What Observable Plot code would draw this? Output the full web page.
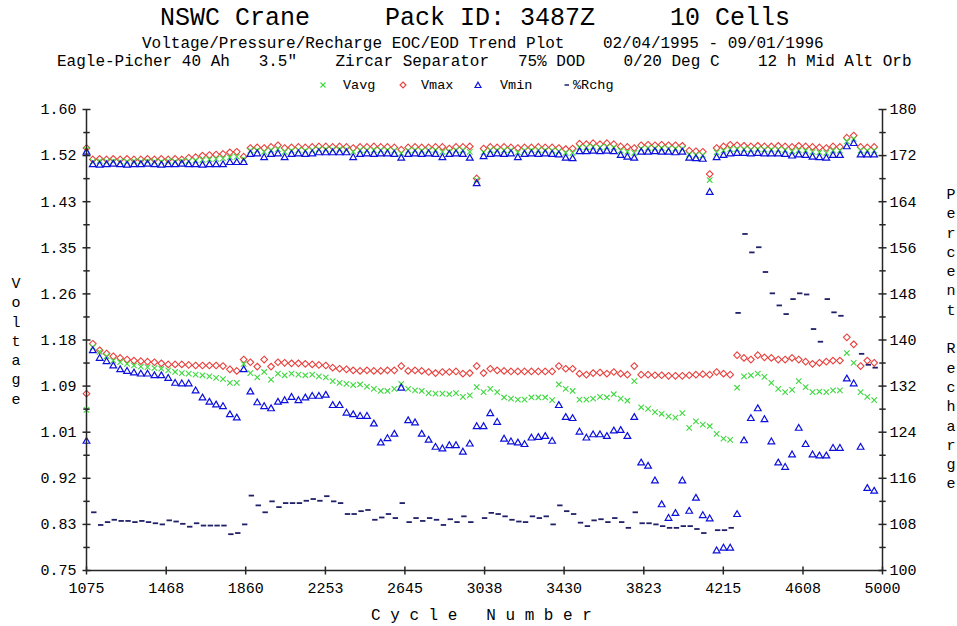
<!DOCTYPE html>
<html><head><meta charset="utf-8">
<script src="https://cdn.jsdelivr.net/npm/d3@7"></script>
<script src="https://cdn.jsdelivr.net/npm/@observablehq/plot@0.6"></script>
<style>
body{margin:0;background:#fff;}
#wrap{position:relative;width:957px;height:626px;font-family:"Liberation Mono",monospace;color:#000;overflow:hidden;}
#wrap > svg{position:absolute;left:0;top:0;}
.t{position:absolute;white-space:pre;line-height:1;}
.stack{position:absolute;white-space:pre;text-align:center;width:16px;font-size:15px;line-height:19.3px;}
.lg{position:absolute;font-size:13.5px;line-height:1;white-space:pre;}
.ls{position:absolute;line-height:0;}
.ls svg{display:block;}
</style></head><body><div id="wrap"></div>
<script>
// ---------- data ----------
const seriesNames = ["Vavg", "Vmax", "Vmin", "%Rchg"];
const xTicks = [1075, 1468, 1860, 2253, 2645, 3038, 3430, 3823, 4215, 4608, 5000];
const yTicks = [0.75, 0.835, 0.92, 1.005, 1.09, 1.175, 1.26, 1.345, 1.43, 1.515, 1.60];
const yTickLabels = ["0.75","0.83","0.92","1.01","1.09","1.18","1.26","1.35","1.43","1.52","1.60"];
const pctTicks = [100, 108, 116, 124, 132, 140, 148, 156, 164, 172, 180];

const cycles = [1075,
1106,1140,1174,1207,1241,1275,1309,1343,1376,1410,
1444,1478,1512,1545,1579,1613,1647,1681,1714,1748,
1782,1816,1850,1883,1917,1951,1985,2019,2052,2086,
2120,2154,2188,2221,2255,2289,2323,2357,2390,2424,
2458,2492,2526,2559,2593,2627,2661,2695,2728,2762,
2796,2830,2864,2897,2931,2965,2999,3033,3066,3100,
3134,3168,3202,3235,3269,3303,3337,3371,3404,3438,
3472,3506,3540,3573,3607,3641,3675,3709,3742,3776,
3810,3844,3878,3911,3945,3979,4013,4047,4080,4114,
4148,4182,4216,4249,4283,4317,4351,4385,4418,4452,
4486,4520,4554,4587,4621,4655,4689,4723,4756,4790,
4824,4858,4892,4925,4959];

// end of charge (EOC)
const vmaxEOC = [1.529,
1.508,1.509,1.508,1.509,1.508,1.509,1.508,1.508,1.509,1.508,
1.509,1.508,1.509,1.508,1.511,1.512,1.515,1.516,1.517,1.518,
1.521,1.522,1.513,1.529,1.530,1.529,1.531,1.534,1.529,1.530,
1.531,1.530,1.531,1.532,1.532,1.531,1.532,1.531,1.529,1.531,
1.531,1.532,1.531,1.531,1.530,1.526,1.530,1.531,1.530,1.530,
1.531,1.531,1.528,1.531,1.531,1.532,1.473,1.528,1.531,1.530,
1.531,1.530,1.529,1.530,1.530,1.531,1.530,1.530,1.529,1.527,
1.528,1.537,1.536,1.538,1.536,1.538,1.536,1.532,1.531,1.529,
1.534,1.535,1.534,1.535,1.534,1.534,1.533,1.524,1.523,1.522,
1.481,1.529,1.532,1.535,1.534,1.533,1.532,1.533,1.532,1.532,
1.533,1.532,1.531,1.533,1.532,1.531,1.530,1.529,1.532,1.531,
1.548,1.552,1.531,1.530,1.531];
const vavgEOC = [1.526,
1.504,1.505,1.504,1.505,1.504,1.504,1.505,1.504,1.505,1.504,
1.504,1.505,1.504,1.505,1.505,1.506,1.507,1.508,1.509,1.510,
1.512,1.513,1.509,1.524,1.525,1.522,1.525,1.527,1.522,1.524,
1.525,1.524,1.525,1.527,1.527,1.526,1.527,1.526,1.522,1.525,
1.525,1.525,1.525,1.525,1.524,1.519,1.524,1.525,1.524,1.525,
1.525,1.522,1.523,1.525,1.525,1.522,1.470,1.521,1.525,1.525,
1.525,1.525,1.521,1.524,1.525,1.525,1.525,1.524,1.523,1.520,
1.520,1.530,1.530,1.531,1.530,1.531,1.530,1.524,1.522,1.520,
1.528,1.529,1.529,1.529,1.528,1.528,1.528,1.517,1.516,1.516,
1.470,1.521,1.524,1.527,1.527,1.527,1.526,1.527,1.526,1.526,
1.526,1.525,1.523,1.525,1.524,1.522,1.521,1.520,1.524,1.524,
1.541,1.546,1.524,1.524,1.524];
const vminEOC = [1.523,
1.500,1.499,1.500,1.501,1.500,1.499,1.500,1.500,1.501,1.500,
1.499,1.500,1.500,1.501,1.500,1.500,1.499,1.500,1.500,1.500,
1.504,1.504,1.504,1.519,1.520,1.513,1.519,1.520,1.513,1.519,
1.520,1.519,1.520,1.522,1.522,1.522,1.522,1.522,1.513,1.519,
1.520,1.519,1.520,1.520,1.519,1.512,1.519,1.520,1.519,1.520,
1.519,1.513,1.519,1.520,1.519,1.512,1.465,1.515,1.519,1.520,
1.519,1.520,1.513,1.519,1.520,1.519,1.520,1.519,1.518,1.512,
1.511,1.524,1.524,1.525,1.524,1.525,1.524,1.517,1.514,1.512,
1.523,1.523,1.524,1.523,1.523,1.522,1.523,1.512,1.511,1.510,
1.449,1.513,1.517,1.520,1.521,1.521,1.520,1.521,1.520,1.520,
1.520,1.519,1.516,1.518,1.517,1.514,1.513,1.512,1.517,1.517,
1.533,1.539,1.518,1.518,1.518];

// end of discharge (EOD)
const vmaxEOD = [1.076,
1.168,1.156,1.150,1.145,1.142,1.139,1.137,1.136,1.135,1.134,
1.132,1.130,1.130,1.130,1.129,1.128,1.128,1.128,1.128,1.127,
1.121,1.118,1.139,1.134,1.126,1.139,1.126,1.134,1.133,1.132,
1.132,1.131,1.130,1.129,1.128,1.124,1.122,1.121,1.119,1.118,
1.119,1.118,1.118,1.119,1.119,1.127,1.118,1.119,1.118,1.116,
1.114,1.116,1.116,1.117,1.113,1.114,1.127,1.114,1.122,1.119,
1.118,1.117,1.117,1.117,1.117,1.117,1.117,1.117,1.127,1.122,
1.122,1.113,1.111,1.114,1.115,1.113,1.116,1.113,1.111,1.127,
1.111,1.111,1.110,1.110,1.109,1.109,1.109,1.110,1.111,1.112,
1.111,1.116,1.113,1.111,1.147,1.142,1.139,1.147,1.143,1.142,
1.139,1.139,1.142,1.139,1.135,1.131,1.133,1.135,1.137,1.137,
1.180,1.167,1.127,1.137,1.133];
const vavgEOD = [1.046,
1.162,1.153,1.145,1.137,1.134,1.131,1.128,1.126,1.125,1.123,
1.122,1.119,1.116,1.114,1.113,1.111,1.110,1.108,1.105,1.103,
1.096,1.096,1.131,1.114,1.106,1.116,1.102,1.113,1.110,1.113,
1.111,1.110,1.111,1.108,1.106,1.099,1.096,1.094,1.092,1.093,
1.089,1.085,1.081,1.081,1.085,1.094,1.085,1.082,1.081,1.077,
1.076,1.076,1.075,1.077,1.070,1.073,1.088,1.079,1.085,1.079,
1.069,1.067,1.065,1.065,1.069,1.069,1.069,1.064,1.093,1.085,
1.081,1.065,1.065,1.067,1.070,1.069,1.075,1.067,1.063,1.099,
1.051,1.048,1.042,1.039,1.034,1.032,1.040,1.013,1.025,1.019,
1.016,1.002,0.993,0.991,1.087,1.108,1.110,1.113,1.107,1.096,
1.085,1.079,1.083,1.099,1.088,1.079,1.080,1.079,1.082,1.082,
1.151,1.133,1.079,1.070,1.064];
const vminEOD = [0.990,
1.157,1.143,1.137,1.129,1.122,1.119,1.116,1.114,1.114,1.111,
1.111,1.106,1.097,1.096,1.096,1.083,1.070,1.062,1.057,1.054,
1.039,1.033,1.122,1.081,1.061,1.054,1.050,1.062,1.065,1.071,
1.065,1.070,1.073,1.073,1.075,1.056,1.056,1.042,1.039,1.036,
1.036,1.022,0.987,0.995,1.003,1.088,1.028,1.024,1.003,0.992,
0.979,0.976,0.982,0.982,0.970,0.985,1.017,1.017,1.041,1.025,
0.994,0.989,0.987,0.984,0.996,0.997,0.999,0.990,1.056,1.034,
1.032,1.007,0.996,1.002,1.002,0.999,1.009,1.010,0.999,1.034,
0.950,0.944,0.917,0.873,0.848,0.857,0.917,0.861,0.885,0.853,
0.847,0.788,0.793,0.793,0.855,0.991,1.032,1.050,1.030,0.989,
0.950,0.942,0.965,1.014,0.984,0.965,0.963,0.963,0.977,0.977,
1.105,1.096,0.979,0.903,0.898];

// percent recharge (right axis)
const rchg = [null,
110.1,107.9,108.4,108.8,108.6,108.6,108.4,108.6,108.4,108.2,
108.0,108.7,108.5,108.1,107.6,108.2,107.8,107.8,107.8,107.8,
106.3,106.5,108.0,113.0,111.3,110.1,112.0,111.0,111.7,111.7,
111.7,112.1,112.4,112.1,112.9,112.0,111.7,109.8,109.8,110.3,
110.5,108.8,109.2,109.8,109.1,111.7,108.4,109.1,108.6,109.1,
108.8,107.9,108.9,108.4,109.4,108.4,null,109.1,110.0,109.8,
109.4,108.8,108.5,108.4,109.4,109.1,109.4,108.0,111.3,110.3,
109.8,108.3,107.7,108.7,108.9,108.4,109.1,108.4,107.4,110.1,
108.2,108.2,108.0,107.7,107.4,107.4,107.7,107.7,107.2,106.5,
null,107.0,107.0,107.4,144.7,158.4,155.2,156.1,151.8,148.1,
146.0,144.5,147.1,148.1,147.9,141.9,139.7,147.1,144.8,144.2,
null,null,137.6,135.7,135.2];

// ---------- chart ----------
const xDomain = [1075, 5000];
const yDomain = [0.75, 1.60];
const pDomain = [100, 180];
const toV = p => yDomain[0] + (p - pDomain[0]) * (yDomain[1] - yDomain[0]) / (pDomain[1] - pDomain[0]);
const pctTickV = pctTicks.map(toV);
const mids = a => d3.pairs(a, (p, q) => (p + q) / 2);

const colors = {Vavg: "#3fd83f", Vmax: "#e8403c", Vmin: "#0c10dc", Rchg: "#202068"};

const pts = arr => cycles.map((c, i) => ({c, v: arr[i]})).filter(d => d.v != null);
const pctPts = cycles.map((c, i) => ({c, v: rchg[i] == null ? null : toV(rchg[i])})).filter(d => d.v != null);

const hDash = {draw(ctx, size) { const w = Math.sqrt(size / Math.PI); ctx.moveTo(-w, 0); ctx.lineTo(w, 0); }};
const vDash = {draw(ctx, size) { const w = Math.sqrt(size / Math.PI); ctx.moveTo(0, -w); ctx.lineTo(0, w); }};

const axisColor = "#262626";

const chart = Plot.plot({
  width: 957, height: 626,
  marginTop: 109, marginBottom: 56, marginLeft: 86, marginRight: 75,
  x: {domain: xDomain},
  y: {domain: yDomain},
  style: {fontFamily: "'Liberation Mono', monospace", fontSize: "15px", color: "#000", background: "transparent", overflow: "visible"},
  marks: [
    // series
    Plot.dot(pts(vmaxEOC), {x: "c", y: "v", symbol: "diamond2", r: 3, stroke: colors.Vmax, fill: "none", strokeWidth: 1.1}),
    Plot.dot(pts(vmaxEOD), {x: "c", y: "v", symbol: "diamond2", r: 3, stroke: colors.Vmax, fill: "none", strokeWidth: 1.1}),
    Plot.dot(pts(vavgEOC), {x: "c", y: "v", symbol: "times", r: 2.6, stroke: colors.Vavg, fill: "none", strokeWidth: 1.1}),
    Plot.dot(pts(vavgEOD), {x: "c", y: "v", symbol: "times", r: 2.6, stroke: colors.Vavg, fill: "none", strokeWidth: 1.1}),
    Plot.dot(pts(vminEOC), {x: "c", y: "v", symbol: "triangle2", r: 3.2, stroke: colors.Vmin, fill: "none", strokeWidth: 1.2, dy: 1}),
    Plot.dot(pts(vminEOD), {x: "c", y: "v", symbol: "triangle2", r: 3.2, stroke: colors.Vmin, fill: "none", strokeWidth: 1.2, dy: 1}),
    Plot.dot(pctPts, {x: "c", y: "v", symbol: hDash, r: 2.7, stroke: colors.Rchg, fill: "none", strokeWidth: 1.8, dx: 1}),
    // axis lines
    Plot.ruleX(xDomain, {stroke: axisColor, strokeWidth: 1.5}),
    Plot.ruleY([yDomain[0]], {stroke: axisColor, strokeWidth: 1.5}),
    // crossing tick marks
    Plot.dot(yTicks, {x: () => xDomain[0], y: d => d, symbol: hDash, r: 4, stroke: axisColor, strokeWidth: 1.5}),
    Plot.dot(mids(yTicks), {x: () => xDomain[0], y: d => d, symbol: hDash, r: 3.2, stroke: axisColor, strokeWidth: 1.5}),
    Plot.dot(pctTickV, {x: () => xDomain[1], y: d => d, symbol: hDash, r: 4, stroke: axisColor, strokeWidth: 1.5}),
    Plot.dot(mids(pctTickV), {x: () => xDomain[1], y: d => d, symbol: hDash, r: 3.2, stroke: axisColor, strokeWidth: 1.5}),
    Plot.dot(xTicks, {x: d => d, y: () => yDomain[0], symbol: vDash, r: 4, stroke: axisColor, strokeWidth: 1.5}),
    // tick labels
    Plot.axisY({anchor: "left", ticks: yTicks, tickFormat: d => yTickLabels[yTicks.indexOf(d)], tickSize: 0, tickPadding: 10, label: null}),
    Plot.axisY({anchor: "right", ticks: pctTickV, tickFormat: d => String(pctTicks[pctTickV.indexOf(d)]), tickSize: 0, tickPadding: 7, label: null}),
    Plot.axisX({ticks: xTicks, tickFormat: d => String(d), tickSize: 0, tickPadding: 12, label: null})
  ]
});

const wrap = document.getElementById("wrap");
wrap.appendChild(chart);

function addText(txt, left, top, size, cls = "t") {
  const d = document.createElement("div");
  d.className = cls;
  d.style.left = left + "px";
  d.style.top = top + "px";
  if (size) d.style.fontSize = size + "px";
  d.textContent = txt;
  wrap.appendChild(d);
  return d;
}
addText("NSWC Crane     Pack ID: 3487Z     10 Cells", 160, 6, 25);
addText("Voltage/Pressure/Recharge EOC/EOD Trend Plot    02/04/1995 - 09/01/1996", 142, 36, 16);
addText("Eagle-Picher 40 Ah   3.5\"    Zircar Separator   75% DOD    0/20 Deg C    12 h Mid Alt Orb", 57, 54, 16);
addText("C y c l e   N u m b e r", 371, 608, 16);
addText("V\no\nl\nt\na\ng\ne", 8, 275, null, "stack");
addText("P\ne\nr\nc\ne\nn\nt\n \nR\ne\nc\nh\na\nr\ng\ne", 943, 186, null, "stack");

// legend: small symbols followed by labels
const legendSymbols = {
  "Vavg": `<svg width="8" height="8"><path d="M1.5,1.5L6.5,6.5M6.5,1.5L1.5,6.5" stroke="${colors.Vavg}" stroke-width="1.1" fill="none"/></svg>`,
  "Vmax": `<svg width="8" height="8"><path d="M4,1L7,4L4,7L1,4Z" stroke="${colors.Vmax}" stroke-width="1.1" fill="none"/></svg>`,
  "Vmin": `<svg width="8" height="8"><path d="M4,1.2L7,6.5L1,6.5Z" stroke="${colors.Vmin}" stroke-width="1.2" fill="none"/></svg>`,
  "%Rchg": `<svg width="8" height="8"><path d="M1.5,4L6,4" stroke="${colors.Rchg}" stroke-width="1.5" fill="none"/></svg>`
};
const legendSymbolLeft = [319, 399, 474, 563];
const legendTextLeft = [343, 421, 500, 573];
seriesNames.forEach((name, i) => {
  const s = document.createElement("div");
  s.className = "ls";
  s.style.left = legendSymbolLeft[i] + "px";
  s.style.top = "81px";
  s.innerHTML = legendSymbols[name];
  wrap.appendChild(s);
  addText(name, legendTextLeft[i], 79, null, "lg");
});
</script>
</body></html>
